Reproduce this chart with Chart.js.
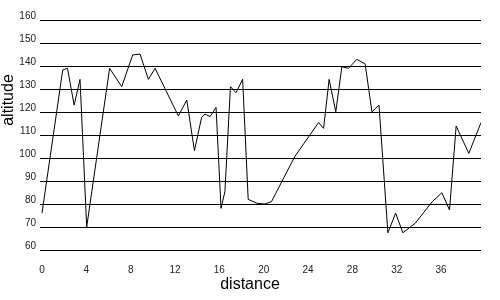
<!DOCTYPE html>
<html>
<head>
<meta charset="utf-8">
<script src="https://cdn.jsdelivr.net/npm/chart.js@4/dist/chart.umd.min.js"></script>
<style>
  html, body { margin: 0; padding: 0; background: #fff; }
  #wrap { width: 500px; height: 300px; }
</style>
</head>
<body>
<div id="wrap"><canvas id="chart"></canvas></div>
<script>
  // values
  const distance = [0, 1.87, 2.3, 2.9, 3.43, 4.03, 6.1, 7.19, 8.18, 8.84, 9.6, 10.2, 12.3, 13.06,
    13.75, 14.4, 14.7, 15.16, 15.7, 16.15, 16.5, 17.0, 17.5, 18.1, 18.6, 19.4, 20.1, 20.7, 22.8,
    24.95, 25.4, 25.9, 26.5, 27.05, 27.65, 28.4, 29.15, 29.76, 30.4, 31.2, 31.9, 32.55, 33.66,
    35.2, 36.07, 36.76, 37.36, 38.5, 39.6];
  const altitude = [76, 138.3, 139, 123, 134.2, 70, 139, 131, 144.8, 145.2, 134.2, 139, 118.3, 125.2,
    103.2, 117.7, 119.1, 118, 122, 78.1, 85.4, 131, 128.4, 134.2, 82, 80.3, 80, 81, 100.6,
    115.4, 112.9, 134.2, 120.1, 139.7, 139, 142.9, 140.9, 120.1, 123, 67.5, 76, 67.5, 71.6,
    81, 84.9, 77.4, 113.9, 102, 115.4];
  const xTicks = [0, 4, 8, 12, 16, 20, 24, 28, 32, 36];
  const yTicks = [60, 70, 80, 90, 100, 110, 120, 130, 140, 150, 160];

  const points = distance.map((d, i) => ({ x: d, y: altitude[i] }));
  const textFont = "'Liberation Sans', Arial, sans-serif";

  const axisTitles = {
    id: "axisTitles",
    afterDraw(chart) {
      const ctx = chart.ctx;
      ctx.save();
      ctx.fillStyle = "#000";
      ctx.font = "16px " + textFont;
      ctx.textAlign = "center";
      ctx.textBaseline = "middle";
      ctx.fillText("distance", 250, 285);
      ctx.translate(9, 100);
      ctx.rotate(-Math.PI / 2);
      ctx.fillText("altitude", 0, 0);
      ctx.restore();
    },
  };

  new Chart(document.getElementById("chart"), {
    type: "line",
    data: {
      datasets: [
        {
          data: points,
          borderColor: "#000",
          borderWidth: 1,
          pointRadius: 0,
          tension: 0,
          fill: false,
        },
      ],
    },
    options: {
      responsive: true,
      maintainAspectRatio: false,
      animation: false,
      layout: { padding: { top: 20, right: 19, left: 0, bottom: 0 } },
      plugins: { legend: { display: false }, tooltip: { enabled: false } },
      scales: {
        x: {
          type: "linear",
          min: -0.18,
          max: 39.6,
          afterBuildTicks: (s) => { s.ticks = xTicks.map((v) => ({ value: v })); },
          afterFit: (s) => { s.height = 50; },
          grid: { display: false, drawTicks: false },
          border: { display: false },
          ticks: { color: "#222", font: { family: textFont, size: 10 }, padding: 14, maxRotation: 0 },
        },
        y: {
          min: 60,
          max: 160,
          afterBuildTicks: (s) => { s.ticks = yTicks.map((v) => ({ value: v })); },
          afterFit: (s) => { s.width = 40; },
          grid: { color: "#000", lineWidth: 1, drawTicks: false },
          border: { display: false },
          ticks: { color: "#222", font: { family: textFont, size: 10 }, padding: 4, labelOffset: -4 },
        },
      },
    },
    plugins: [axisTitles],
  });
</script>
</body>
</html>
